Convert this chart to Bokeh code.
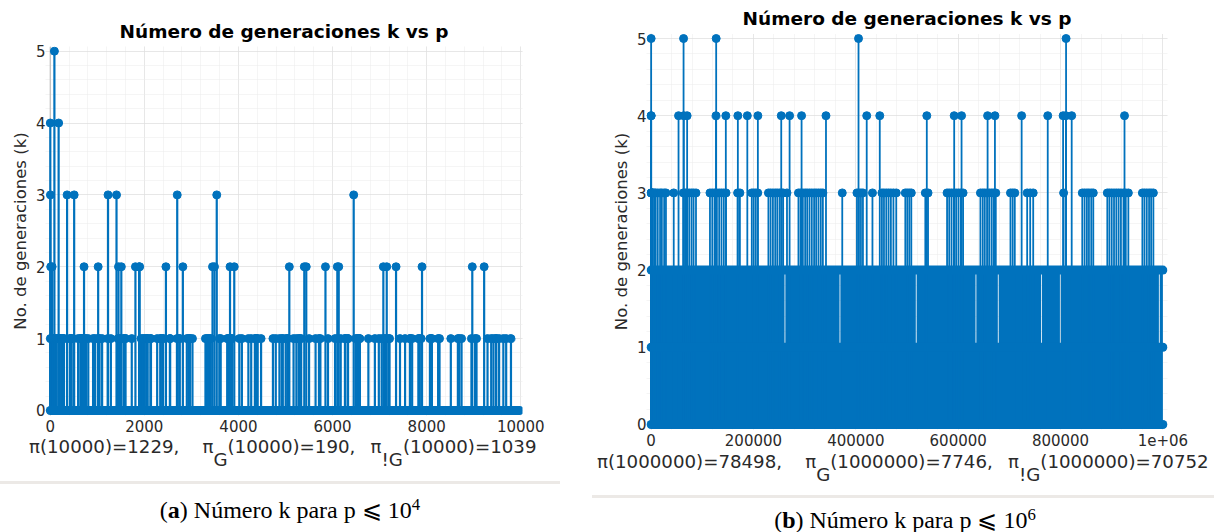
from bokeh.plotting import figure
from bokeh.models import Range1d, FixedTicker, Div, Span
from bokeh.layouts import row, column
from bokeh.embed import file_html
from bokeh.resources import INLINE

BLUE = "#0072BD"

# ---------------- data: panel (a), p <= 10^4 ----------------
a_k5 = [89]
a_k4 = [2, 179]
a_k3 = [5, 359, 509, 1229, 1409, 2699, 3539, 6449]
a_k2 = [11, 41, 719, 1019, 1451, 1511, 1811, 1889, 1901, 2459, 2819, 3449, 3491,
        3821, 3911, 5081, 5399, 5441, 5849, 6101, 6131, 7079, 7151, 7349, 7901,
        8969, 9221]
a_k1 = [3, 23, 29, 53, 83, 113, 131, 173, 191, 233, 239, 251, 281, 293, 419, 431,
        443, 491, 593, 641, 653, 659, 683, 743, 761, 809, 911, 953, 1013, 1031,
        1049, 1103, 1223, 1289, 1439, 1481, 1499, 1559, 1583, 1601, 1733, 1931,
        1973, 2003, 2039, 2063, 2069, 2129, 2141, 2273, 2339, 2351, 2393, 2399,
        2543, 2549, 2693, 2741, 2753, 2903, 2939, 2963, 2969, 3023, 3299, 3329,
        3359, 3389, 3413, 3593, 3623, 3761, 3779, 3803, 3851, 3863, 4019, 4073,
        4211, 4271, 4349, 4373, 4391, 4409, 4481, 4733, 4793, 4871, 4919, 4943,
        5003, 5039, 5051, 5171, 5231, 5279, 5303, 5333, 5501, 5639, 5711, 5741,
        5903, 6053, 6113, 6173, 6263, 6269, 6323, 6329, 6491, 6521, 6551, 6563,
        6581, 6761, 6899, 6983, 7043, 7103, 7121, 7193, 7211, 7433, 7541, 7643,
        7649, 7691, 7823, 7841, 7883, 8069, 8093, 8111, 8243, 8273, 8513, 8663,
        8693, 8741, 8951, 9029, 9059, 9293, 9371, 9419, 9473, 9479, 9539, 9629,
        9689, 9791]
a_zero_span = [2, 9973]          # primes with k = 0 form a continuous row
a_xticks = [0, 2000, 4000, 6000, 8000, 10000]
a_xtick_labels = ["0", "2000", "4000", "6000", "8000", "10000"]

# ---------------- data: panel (b), p <= 10^6 ----------------
b_k5 = [89, 63419, 127139, 405269, 810809]
b_k4 = [2, 179, 53600, 63800, 70400, 126839, 146000, 169500, 188000, 208600,
        254279, 270600, 294000, 341700, 421300, 446800, 538700, 592200, 606600,
        657500, 671800, 724000, 775000, 805000, 810539, 821800, 925000]
b_k3 = [5, 359, 509, 1229, 1409, 2699, 3539, 6449, 9000, 13000, 17500, 21000,
        25500, 29000, 44200,
        62800, 66500, 70000, 74500, 79000, 83000, 87700,
        115000, 119500, 124000, 128500, 133000, 137500, 142000, 146400,
        169000, 173500,
        196700, 200500, 204500, 208400,
        229200, 233500, 238000, 242500, 246500, 251000, 255000, 258000, 265500,
        287900, 292000, 296500, 301000, 305000, 309500, 314000, 318500, 322500,
        327000, 331500, 335600,
        373500,
        402200, 406000, 410000, 413900,
        432500,
        451000, 455000, 459500, 464000, 468500, 473500, 479000,
        496700, 500500, 504500, 508400,
        535800, 541100,
        578300, 582500, 587000, 591500, 596000, 600500, 605000, 609600,
        643500, 648000, 652000, 656500, 661000, 665500, 669500, 673500,
        702200, 706500, 710600,
        734800, 740700, 746600,
        806000,
        842500, 847000, 851500, 855500, 860000, 864000,
        891400, 895500, 900000, 904500, 909000, 913500, 918000, 923000, 927500,
        932500,
        959900, 964000, 968500, 973000, 977000, 981400]
b_row_span = [2, 999983]         # k = 0, 1, 2 are dense enough to form solid rows
b_row_levels = [0, 1, 2]
b_slits = [261500, 369000, 518000, 634700, 678300, 763000, 799600, 993000]
b_xticks = [0, 200000, 400000, 600000, 800000, 1000000]
b_xtick_labels = ["0", "200000", "400000", "600000", "800000", "1e+06"]

yticks = [0, 1, 2, 3, 4, 5]

TITLE = "Número de generaciones k vs p"
YLABEL = "No. de generaciones (k)"


def base_fig(width, height, xr, yr, mb_left, mb_right, mb_top, mb_bottom,
             xticks, xlabels, xminor, title_standoff):
    p = figure(width=width, height=height, x_range=Range1d(*xr), y_range=Range1d(*yr),
               output_backend="svg", toolbar_location=None,
               min_border_left=mb_left, min_border_right=mb_right,
               min_border_top=mb_top, min_border_bottom=mb_bottom)
    p.outline_line_color = None
    p.background_fill_color = "white"
    p.border_fill_color = "white"
    p.title.text = TITLE
    p.title.text_font = "DejaVu Sans"
    p.title.text_font_style = "bold"
    p.title.text_font_size = "18.5px"
    p.title.text_color = "#000000"
    p.title.align = "center"
    p.title.standoff = title_standoff

    xt = FixedTicker(ticks=xticks, minor_ticks=xminor)
    yt = FixedTicker(ticks=yticks, minor_ticks=[i * 0.2 for i in range(26)])
    p.xaxis.ticker = xt
    p.yaxis.ticker = yt
    p.xgrid.ticker = xt
    p.ygrid.ticker = yt
    p.xaxis.major_label_overrides = {t: s for t, s in zip(xticks, xlabels)}
    for ax in (p.xaxis, p.yaxis):
        ax.axis_line_color = None
        ax.major_tick_line_color = None
        ax.minor_tick_line_color = None
        ax.major_tick_out = 0
        ax.major_tick_in = 0
        ax.minor_tick_out = 0
        ax.minor_tick_in = 0
        ax.major_label_text_font = "DejaVu Sans"
        ax.major_label_text_font_size = "15px"
        ax.major_label_text_color = "#2a2a2a"
    p.xaxis.major_label_standoff = 4
    p.yaxis.major_label_standoff = 0
    p.yaxis.axis_label = YLABEL
    p.yaxis.axis_label_text_font = "DejaVu Sans"
    p.yaxis.axis_label_text_font_size = "16.5px"
    p.yaxis.axis_label_text_font_style = "normal"
    p.yaxis.axis_label_text_color = "#2a2a2a"
    p.yaxis.axis_label_standoff = 3

    for g in (p.xgrid, p.ygrid):
        g.grid_line_color = "#d9d9d9"
        g.grid_line_dash = "1 1"
        g.grid_line_width = 1
        g.minor_grid_line_color = "#ebebeb"
        g.minor_grid_line_dash = "1 1"
        g.minor_grid_line_width = 1
    p.add_layout(Span(location=0, dimension="height", line_color="#b5b5b5",
                      line_width=1, level="underlay"))
    return p


# ---------------- figure (a) ----------------
fa = base_fig(560, 441, (-100, 10036), (-0.07, 5.065), 45, 38, 46, 26,
              a_xticks, a_xtick_labels, [i * 400 for i in range(26)], 8.5)
a_p = a_k1 + a_k2 + a_k3 + a_k4 + a_k5
a_k = [1] * len(a_k1) + [2] * len(a_k2) + [3] * len(a_k3) + [4] * len(a_k4) + [5] * len(a_k5)
fa.segment(x0=a_p, y0=[0] * len(a_p), x1=a_p, y1=a_k, line_color=BLUE, line_width=2.2)
fa.line(x=a_zero_span, y=[0, 0], line_color=BLUE, line_width=9, line_cap="round")
fa.scatter(x=a_p, y=a_k, size=8, fill_color=BLUE, line_color=BLUE, line_width=1)

# ---------------- figure (b) ----------------
fb = base_fig(622, 455, (-9000, 1009000), (-0.065, 5.065), 54, 47, 33, 26,
              b_xticks, b_xtick_labels, [i * 40000 for i in range(26)], 8.5)
gap = 1600
fb.quad(left=[b_row_span[0]], right=[b_row_span[1]], bottom=[0], top=[1],
        fill_color=BLUE, line_color=None)
lefts = [b_row_span[0]] + [s + gap / 2 for s in b_slits]
rights = [s - gap / 2 for s in b_slits] + [b_row_span[1]]
fb.quad(left=lefts, right=rights, bottom=[1] * len(lefts), top=[2] * len(lefts),
        fill_color=BLUE, line_color=None)
b_p = b_k3 + b_k4 + b_k5
b_k = [3] * len(b_k3) + [4] * len(b_k4) + [5] * len(b_k5)
fb.segment(x0=b_p, y0=[0] * len(b_p), x1=b_p, y1=b_k, line_color=BLUE, line_width=1.8)
for lv in b_row_levels:
    fb.line(x=b_row_span, y=[lv, lv], line_color=BLUE, line_width=9, line_cap="round")
fb.scatter(x=b_p, y=b_k, size=8, fill_color=BLUE, line_color=BLUE, line_width=1)


# ---------------- labels, separators, captions ----------------
def sub(t):
    return '<span style="position:relative;top:12.7px">%s</span>' % t


SP4 = "&nbsp;&nbsp;&nbsp;&nbsp;"
SP2 = "&nbsp;&nbsp;&thinsp;"


def xlabel_div(text, width, pad_left, line_h):
    html = ('<div style="font-family:\'DejaVu Sans\';font-size:17px;line-height:%dpx;'
            'color:#2a2a2a;white-space:nowrap;padding-left:%dpx;">'
            '<span style="display:inline-block;transform:scaleX(1.07);transform-origin:0 0;">'
            '%s</span></div>') % (line_h, pad_left, text)
    return Div(text=html, width=width, height=31, margin=0)


def sep_div(width):
    html = '<div style="width:%dpx;height:3px;background:#ece9e6;"></div>' % width
    return Div(text=html, width=width, height=3, margin=0)


def caption_div(letter, exp, width, height, pad_top, pad_left):
    html = ('<div style="font-family:\'Liberation Serif\';font-size:24px;line-height:24px;'
            'color:#000;text-align:center;white-space:nowrap;width:%dpx;'
            'padding-top:%dpx;padding-left:%dpx;box-sizing:border-box;">'
            '(<b>%s</b>) Número k para p ⩽ 10'
            '<span style="font-size:0.7em;position:relative;top:-0.5em">%s</span></div>'
            ) % (width, pad_top, pad_left, letter, exp)
    return Div(text=html, width=width, height=height, margin=0)


xa = xlabel_div("π(10000)=1229," + SP4 + "π" + sub("G") + "(10000)=190," + SP2 +
                "π" + sub("!G") + "(10000)=1039", 560, 29, 13)
xb = xlabel_div("π(1000000)=78498," + SP4 + "π" + sub("G") + "(1000000)=7746," + SP2 +
                "π" + sub("!G") + "(1000000)=70752", 622, 5, 14)

col_a = column(fa, xa, sep_div(560), caption_div("a", "4", 560, 57, 23, 20), spacing=0)
col_b = column(fb, xb, sep_div(622), caption_div("b", "6", 622, 43, 19, 4), spacing=0)
layout = row(col_a, col_b, spacing=32)

open("out.html", "w").write(file_html(layout, INLINE))
